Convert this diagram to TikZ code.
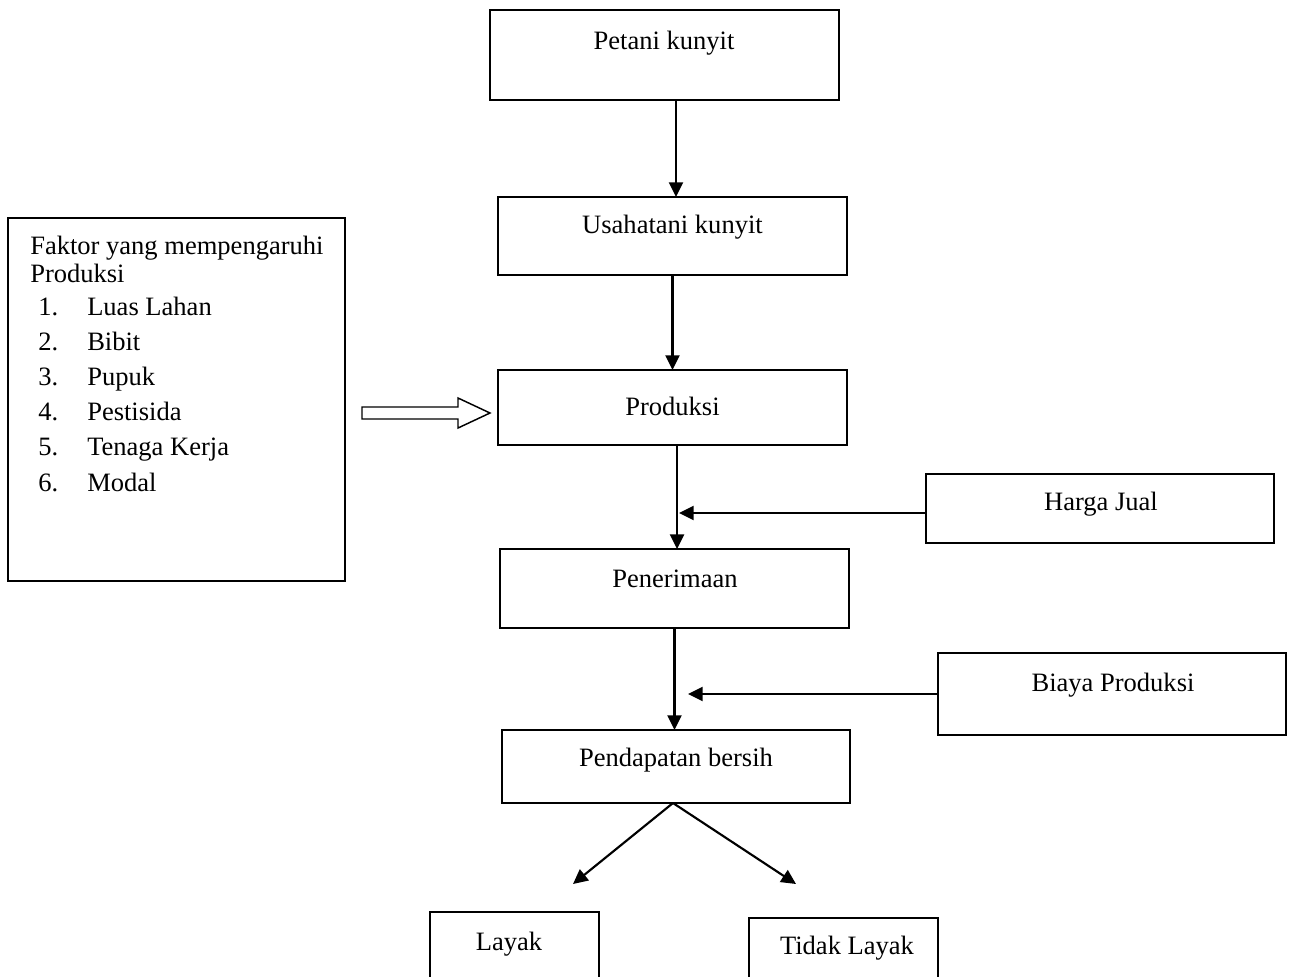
\documentclass[tikz,border=0pt]{standalone}
\usepackage{fontspec}
\setmainfont{Liberation Serif}
\usetikzlibrary{arrows.meta}
\begin{document}
\begin{tikzpicture}[x=0.75pt,y=-0.75pt,
  box/.style={draw,line width=1.1pt,inner sep=0pt,outer sep=0pt,anchor=north west},
  lbl/.style={anchor=base,inner sep=0pt,font=\fontsize{19.9}{24}\selectfont},
  lft/.style={anchor=base west,inner sep=0pt,font=\fontsize{19.9}{24}\selectfont},
  arr/.style={line width=1.6pt,-{Triangle[length=11pt,width=10.5pt]}}]
\useasboundingbox (0,0) rectangle (1292,976);
\clip (0,0) rectangle (1292,976);
% boxes
\node[box,minimum width={349*0.75pt},minimum height={90*0.75pt}] (pk) at (490,10) {};
\node[box,minimum width={349*0.75pt},minimum height={78*0.75pt}] (uk) at (498,197) {};
\node[box,minimum width={349*0.75pt},minimum height={75*0.75pt}] (pr) at (498,370) {};
\node[box,minimum width={349*0.75pt},minimum height={79*0.75pt}] (pe) at (500,549) {};
\node[box,minimum width={348*0.75pt},minimum height={73*0.75pt}] (pb) at (502,730) {};
\node[box,minimum width={169*0.75pt},minimum height={90*0.75pt}] (ly) at (430,912) {};
\node[box,minimum width={189*0.75pt},minimum height={90*0.75pt}] (tl) at (749,918) {};
\node[box,minimum width={348*0.75pt},minimum height={69*0.75pt}] (hj) at (926,474) {};
\node[box,minimum width={348*0.75pt},minimum height={82*0.75pt}] (bp) at (938,653) {};
\node[box,minimum width={337*0.75pt},minimum height={363*0.75pt}] (fk) at (8,218) {};
% labels
\node[lbl] (tpk) at (664,49) {Petani kunyit};
\node[lbl] (tuk) at (672.5,233) {Usahatani kunyit};
\node[lbl] (tpr) at (672.5,415) {Produksi};
\node[lbl] (tpe) at (675,587) {Penerimaan};
\node[lbl] (tpb) at (676,766) {Pendapatan bersih};
\node[lbl] (thj) at (1101,510) {Harga Jual};
\node[lbl] (tbp) at (1113,691) {Biaya Produksi};
\node[lbl] (tly) at (509,950) {Layak};
\node[lbl] (ttl) at (847,954) {Tidak Layak};
% factor list
\node[lft] (f0) at (30,254) {Faktor yang mempengaruhi};
\node[lft] (f00) at (30,282) {Produksi};
\node[lft] (n1) at (38,315) {1.};
\node[lft] (n2) at (38,350) {2.};
\node[lft] (n3) at (38,385) {3.};
\node[lft] (n4) at (38,420) {4.};
\node[lft] (n5) at (38,455) {5.};
\node[lft] (n6) at (38,491) {6.};
\node[lft] (i1) at (87,315) {Luas Lahan};
\node[lft] (i2) at (87,350) {Bibit};
\node[lft] (i3) at (87,385) {Pupuk};
\node[lft] (i4) at (87,420) {Pestisida};
\node[lft] (i5) at (87,455) {Tenaga Kerja};
\node[lft] (i6) at (87,491) {Modal};
% connectors
\draw[arr] ([xshift=8.6pt]pk.south) -- ([xshift=2.6pt]uk.north);
\draw[arr] (uk.south) -- (pr.north);
\draw[arr] ([xshift=3.4pt]pr.south) -- ([xshift=1.9pt]pe.north);
\draw[arr] (pe.south) -- (pe.south |- pb.north);
\coordinate (hjend) at (679,513);
\draw[arr] (hj.west |- hjend) -- (hjend);
\coordinate (bpend) at (688,694);
\draw[arr] (bp.west |- bpend) -- (bpend);
\coordinate (lyend) at (573,884);
\coordinate (tlend) at (796,884);
\draw[arr] ([xshift=-2.25pt]pb.south) -- (lyend);
\draw[arr] ([xshift=-2.25pt]pb.south) -- (tlend);
% hollow arrow
\draw[line width=1.1pt,line join=miter] (362,407) -- (458,407) -- (458,398) -- (490,413) -- (458,428) -- (458,419) -- (362,419) -- cycle;
\end{tikzpicture}
\end{document}
